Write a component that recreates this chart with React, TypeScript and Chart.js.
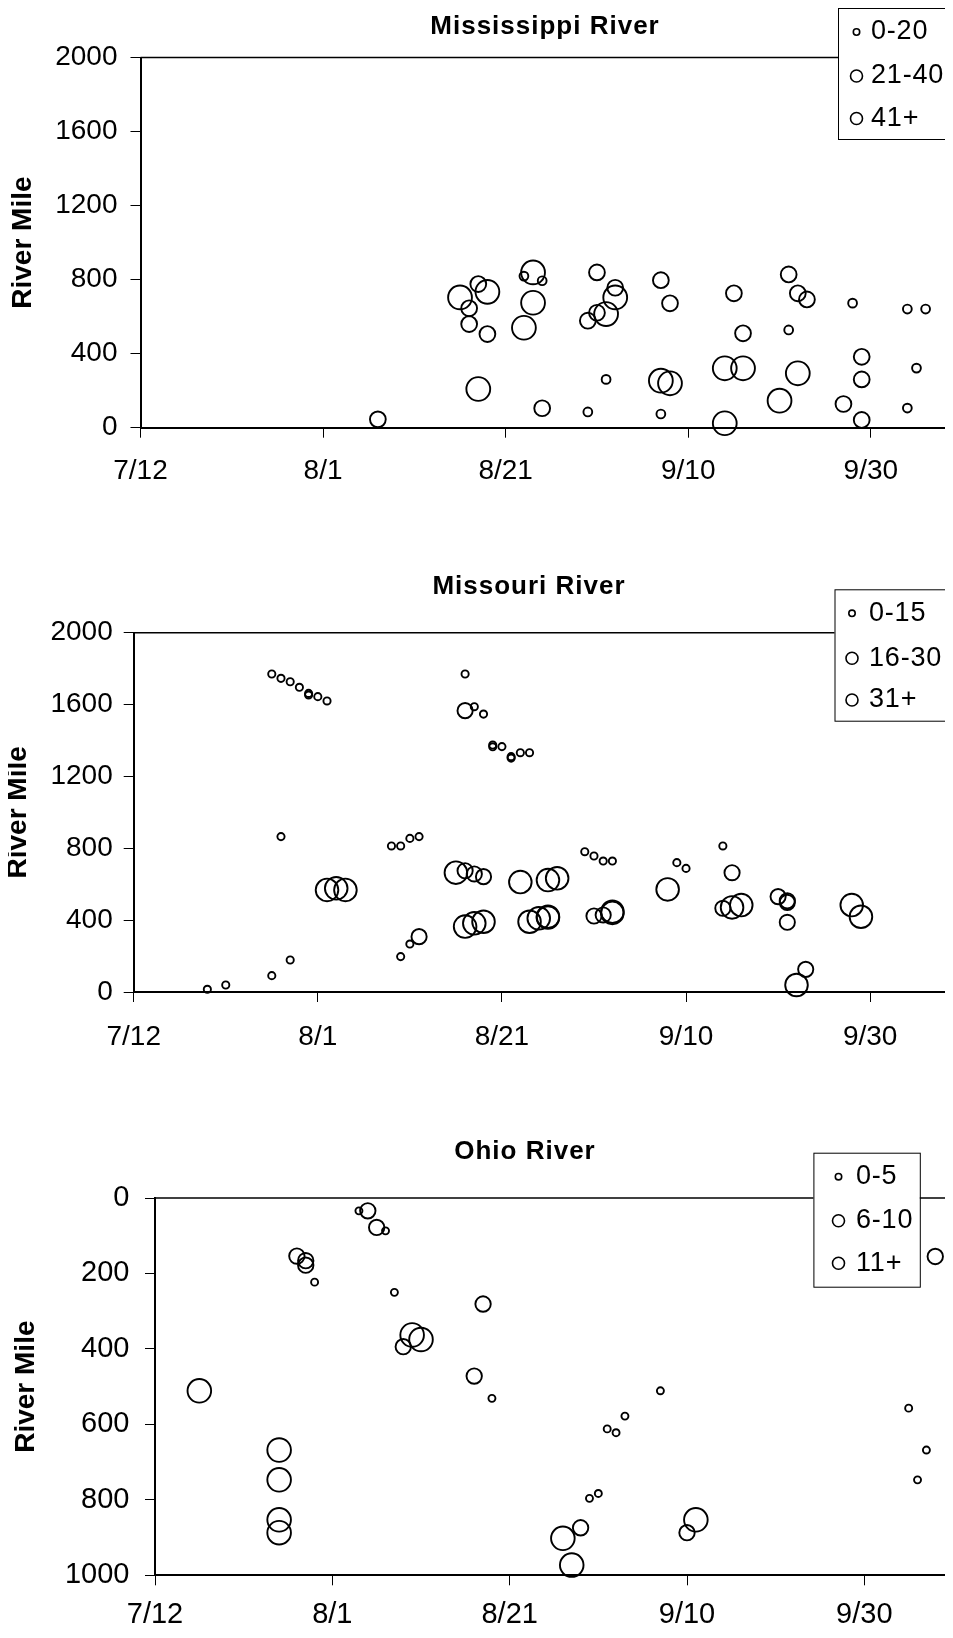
import { useEffect, useRef } from 'react';
import { Chart, registerables } from 'chart.js';

Chart.register(...registerables);

const FONT = "'Liberation Sans', Arial, Helvetica, sans-serif";

// ---------- shared axis data ----------
const SEASON_START = '7/12';
const DATE_TICK_LABELS = ['7/12', '8/1', '8/21', '9/10', '9/30'];
const AXIS_TITLE = 'River Mile';

// ---------- Mississippi River ----------
const MISS_TITLE = 'Mississippi River';
const MISS_CLASSES = ['0-20', '21-40', '41+'];
const MISS_SMALL_DATES = ['8/23', '8/25', '9/1', '8/30', '9/7', '9/21', '9/28', '10/4', '10/6', '10/5', '10/4'];
const MISS_SMALL_MILES = [819, 794, 261, 85, 74, 528, 673, 641, 641, 322, 106];
const MISS_MED_DATES = ['8/7', '8/18', '8/17', '8/17', '8/19', '8/25', '8/31', '9/2', '8/31', '8/30', '9/7', '9/8', '9/15', '9/16', '9/21', '9/22', '9/23', '9/29', '9/29', '9/27', '9/29'];
const MISS_MED_MILES = [45, 776, 645, 560, 506, 105, 839, 756, 621, 578, 797, 672, 726, 510, 828, 726, 693, 383, 261, 128, 42];
const MISS_LARGE_DATES = ['8/16', '8/19', '8/24', '8/24', '8/23', '8/18', '9/2', '9/1', '9/7', '9/8', '9/14', '9/16', '9/14', '9/22', '9/20'];
const MISS_LARGE_MILES = [704, 734, 839, 675, 540, 209, 704, 614, 254, 240, 321, 321, 24, 294, 146];

// ---------- Missouri River ----------
const MO_TITLE = 'Missouri River';
const MO_CLASSES = ['0-15', '16-30', '31+'];
const MO_SMALL_DATES = ['7/20', '7/22', '7/27', '7/28', '7/29', '7/30', '7/31', '7/31', '8/1', '8/2', '7/28', '7/27', '7/29', '8/9', '8/10', '8/11', '8/12', '8/10', '8/11', '8/17', '8/18', '8/19', '8/20', '8/20', '8/21', '8/22', '8/22', '8/23', '8/24', '8/30', '8/31', '9/1', '9/2', '9/9', '9/10', '9/14'];
const MO_SMALL_MILES = [15, 39, 1770, 1746, 1727, 1696, 1662, 1653, 1644, 1620, 865, 91, 178, 813, 813, 855, 865, 197, 267, 1770, 1588, 1547, 1375, 1365, 1366, 1310, 1302, 1332, 1332, 781, 757, 729, 729, 720, 688, 813];
const MO_MED_DATES = ['8/17', '8/12', '8/17', '8/18', '8/19', '8/31', '9/1', '9/15', '9/14', '9/20', '9/21', '9/21', '9/21', '9/23'];
const MO_MED_MILES = [1566, 308, 675, 657, 642, 423, 429, 664, 466, 531, 508, 499, 388, 126];
const MO_LARGE_DATES = ['8/2', '8/3', '8/4', '8/16', '8/17', '8/18', '8/19', '8/23', '8/24', '8/25', '8/26', '8/26', '8/26', '8/27', '9/2', '9/2', '9/8', '9/15', '9/16', '9/22', '9/28', '9/29'];
const MO_LARGE_MILES = [568, 577, 568, 664, 364, 382, 391, 612, 391, 410, 419, 414, 623, 633, 447, 440, 571, 471, 484, 39, 484, 419];

// ---------- Ohio River ----------
const OH_TITLE = 'Ohio River';
const OH_CLASSES = ['0-5', '6-10', '11+'];
const OH_SMALL_DATES = ['7/30', '8/4', '8/7', '8/8', '8/19', '8/30', '8/31', '9/1', '9/2', '9/3', '9/7', '10/5', '10/6', '10/7'];
const OH_SMALL_MILES = [223, 34, 87, 250, 531, 796, 783, 612, 622, 578, 511, 557, 747, 668];
const OH_MED_DATES = ['7/28', '7/29', '7/29', '8/5', '8/6', '8/9', '8/17', '8/18', '8/29', '9/10', '10/8'];
const OH_MED_MILES = [154, 166, 178, 34, 78, 394, 472, 281, 874, 887, 155];
const OH_LARGE_DATES = ['7/17', '7/26', '7/26', '7/26', '7/26', '8/10', '8/11', '8/27', '8/28', '9/11'];
const OH_LARGE_MILES = [511, 668, 747, 853, 887, 363, 375, 902, 973, 853];

// ---------- helpers ----------
function dayOffset(md: string): number {
  const [m, d] = md.split('/').map(Number);
  const [m0, d0] = SEASON_START.split('/').map(Number);
  return Math.round((Date.UTC(2001, m - 1, d) - Date.UTC(2001, m0 - 1, d0)) / 86400000);
}

type Series = { label: string; dates: string[]; miles: number[]; radius: number };

type Cfg = {
  title: string;
  titleX: number;
  titleY: number;
  top: number;
  height: number;
  plotTop: number;
  plotBottom: number;
  plotLeft: number;
  xMax: number;
  yMax: number;
  yStep: number;
  reverse: boolean;
  tickFont: number;
  xTickPad: number;
  yTickPad: number;
  yTitlePad: number;
  series: Series[];
  legend: { x: number; y: number; w: number; h: number; rowY: number[]; markerX: number; textX: number; radii: number[] };
};

function makeDecor(cfg: Cfg) {
  return {
    id: 'riverDecor',
    beforeDatasetsDraw(chart: any) {
      const { ctx, chartArea: a } = chart;
      ctx.save();
      ctx.strokeStyle = '#000';
      ctx.lineWidth = 1.6;
      ctx.beginPath();
      ctx.moveTo(a.left, a.top);
      ctx.lineTo(a.right, a.top);
      ctx.stroke();
      ctx.restore();
    },
    afterDraw(chart: any) {
      const { ctx } = chart;
      ctx.save();
      // chart title
      ctx.fillStyle = '#000';
      ctx.font = `bold 26px ${FONT}`;
      (ctx as any).letterSpacing = '1px';
      ctx.textAlign = 'center';
      ctx.textBaseline = 'middle';
      ctx.fillText(cfg.title, cfg.titleX, cfg.titleY);
      // legend box
      const L = cfg.legend;
      ctx.fillStyle = '#fff';
      ctx.fillRect(L.x, L.y, L.w, L.h);
      ctx.strokeStyle = '#000';
      ctx.lineWidth = 1;
      ctx.strokeRect(L.x + 0.5, L.y + 0.5, L.w, L.h);
      chart.data.datasets.forEach((ds: any, i: number) => {
        const cy = L.rowY[i];
        ctx.beginPath();
        ctx.arc(L.markerX, cy, L.radii[i], 0, Math.PI * 2);
        ctx.lineWidth = 1.6;
        ctx.strokeStyle = '#000';
        ctx.stroke();
        ctx.fillStyle = '#000';
        ctx.font = `27px ${FONT}`;
        (ctx as any).letterSpacing = '0.8px';
        ctx.textAlign = 'left';
        ctx.textBaseline = 'middle';
        ctx.fillText(ds.label, L.textX, cy);
      });
      ctx.restore();
    },
  };
}

function RiverChart({ cfg }: { cfg: Cfg }) {
  const ref = useRef<HTMLCanvasElement>(null);
  useEffect(() => {
    const canvas = ref.current;
    if (!canvas) return;
    const tickValues = DATE_TICK_LABELS.map(dayOffset);
    const tickFont = { family: FONT, size: cfg.tickFont, lineHeight: 1 };
    const chart = new Chart(canvas, {
      type: 'scatter',
      data: {
        datasets: cfg.series.map((s) => ({
          label: s.label,
          data: s.dates.map((d, i) => ({ x: dayOffset(d), y: s.miles[i] })),
          pointStyle: 'circle',
          pointRadius: s.radius,
          pointHoverRadius: s.radius,
          pointBorderWidth: 1.9,
          pointHoverBorderWidth: 1.9,
          borderColor: '#000',
          pointBorderColor: '#000',
          backgroundColor: 'rgba(0,0,0,0)',
          pointBackgroundColor: 'rgba(0,0,0,0)',
          clip: false,
        })),
      },
      options: {
        responsive: false,
        animation: false,
        events: [],
        layout: { autoPadding: false, padding: { top: cfg.plotTop, left: 0, right: 0, bottom: 0 } },
        plugins: {
          legend: { display: false },
          tooltip: { enabled: false },
          title: { display: false },
        },
        scales: {
          x: {
            type: 'linear',
            position: 'bottom',
            min: 0,
            max: cfg.xMax,
            afterFit: (s: any) => {
              s.height = cfg.height - cfg.plotBottom;
              s.paddingLeft = 0;
              s.paddingRight = 0;
            },
            afterBuildTicks: (s: any) => {
              s.ticks = tickValues.map((v) => ({ value: v }));
            },
            ticks: {
              autoSkip: false,
              maxRotation: 0,
              minRotation: 0,
              padding: cfg.xTickPad,
              color: '#000',
              font: tickFont,
              callback: (v: any) => DATE_TICK_LABELS[tickValues.indexOf(Number(v))] ?? '',
            },
            grid: { display: true, drawOnChartArea: false, drawTicks: true, tickLength: 10, tickColor: '#000', tickWidth: 1 },
            border: { display: true, color: '#000', width: 2 },
          },
          y: {
            type: 'linear',
            position: 'left',
            min: 0,
            max: cfg.yMax,
            reverse: cfg.reverse,
            afterFit: (s: any) => {
              s.width = cfg.plotLeft;
              s.paddingTop = 0;
              s.paddingBottom = 0;
            },
            ticks: {
              stepSize: cfg.yStep,
              padding: cfg.yTickPad,
              color: '#000',
              font: tickFont,
              callback: (v: any) => String(v),
            },
            grid: { display: true, drawOnChartArea: false, drawTicks: true, tickLength: 10, tickColor: '#000', tickWidth: 1 },
            border: { display: true, color: '#000', width: 2 },
            title: {
              display: true,
              text: AXIS_TITLE,
              color: '#000',
              font: { family: FONT, size: 28, weight: 'bold', lineHeight: 1 },
              padding: { top: cfg.yTitlePad, bottom: 0 },
            },
          },
        },
      } as any,
      plugins: [makeDecor(cfg)],
    });
    return () => chart.destroy();
  }, [cfg]);
  return (
    <canvas
      ref={ref}
      width={953}
      height={cfg.height}
      style={{ position: 'absolute', left: 0, top: cfg.top, width: 953, height: cfg.height, display: 'block' }}
    />
  );
}

const MISS_CFG: Cfg = {
  title: MISS_TITLE,
  titleX: 545,
  titleY: 27,
  top: 0,
  height: 500,
  plotTop: 57.5,
  plotBottom: 427.7,
  plotLeft: 140.5,
  xMax: 89,
  yMax: 2000,
  yStep: 400,
  reverse: false,
  tickFont: 28,
  xTickPad: 19.3,
  yTickPad: 13,
  yTitlePad: 9,
  series: [
    { label: MISS_CLASSES[0], dates: MISS_SMALL_DATES, miles: MISS_SMALL_MILES, radius: 4.4 },
    { label: MISS_CLASSES[1], dates: MISS_MED_DATES, miles: MISS_MED_MILES, radius: 7.9 },
    { label: MISS_CLASSES[2], dates: MISS_LARGE_DATES, miles: MISS_LARGE_MILES, radius: 11.9 },
  ],
  legend: { x: 838, y: 8, w: 114, h: 131, rowY: [32, 76, 118.5], markerX: 856.5, textX: 871, radii: [3.2, 6, 6] },
};

const MO_CFG: Cfg = {
  title: MO_TITLE,
  titleX: 529,
  titleY: 27,
  top: 560,
  height: 500,
  plotTop: 72.7,
  plotBottom: 432,
  plotLeft: 133.7,
  xMax: 89,
  yMax: 2000,
  yStep: 400,
  reverse: false,
  tickFont: 28,
  xTickPad: 21,
  yTickPad: 11,
  yTitlePad: 4,
  series: [
    { label: MO_CLASSES[0], dates: MO_SMALL_DATES, miles: MO_SMALL_MILES, radius: 3.6 },
    { label: MO_CLASSES[1], dates: MO_MED_DATES, miles: MO_MED_MILES, radius: 7.6 },
    { label: MO_CLASSES[2], dates: MO_LARGE_DATES, miles: MO_LARGE_MILES, radius: 11.3 },
  ],
  legend: { x: 834.5, y: 29.3, w: 114, h: 131.4, rowY: [53.3, 98.3, 140], markerX: 852, textX: 869, radii: [3.2, 6, 6] },
};

const OH_CFG: Cfg = {
  title: OH_TITLE,
  titleX: 525,
  titleY: 31.7,
  top: 1120,
  height: 518,
  plotTop: 78,
  plotBottom: 455.3,
  plotLeft: 155,
  xMax: 90,
  yMax: 1000,
  yStep: 200,
  reverse: true,
  tickFont: 29,
  xTickPad: 15,
  yTickPad: 15.5,
  yTitlePad: 12,
  series: [
    { label: OH_CLASSES[0], dates: OH_SMALL_DATES, miles: OH_SMALL_MILES, radius: 3.5 },
    { label: OH_CLASSES[1], dates: OH_MED_DATES, miles: OH_MED_MILES, radius: 7.7 },
    { label: OH_CLASSES[2], dates: OH_LARGE_DATES, miles: OH_LARGE_MILES, radius: 11.8 },
  ],
  legend: { x: 813.4, y: 32.7, w: 106.4, h: 134, rowY: [56.7, 100.7, 143.3], markerX: 838.5, textX: 856, radii: [3.2, 6, 6] },
};

export default function App() {
  return (
    <div
      style={{
        position: 'relative',
        width: 953,
        height: 1638,
        margin: -8,
        overflow: 'hidden',
        background: '#fff',
      }}
    >
      <RiverChart cfg={MISS_CFG} />
      <RiverChart cfg={MO_CFG} />
      <RiverChart cfg={OH_CFG} />
    </div>
  );
}
